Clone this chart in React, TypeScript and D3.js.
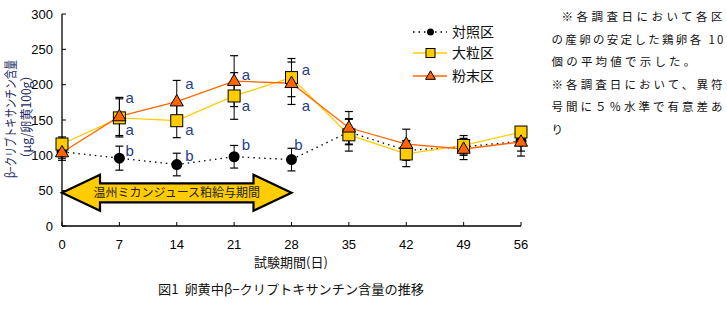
import React from "react";
import * as d3 from "d3";

const days = [0, 7, 14, 21, 28, 35, 42, 49, 56];
const controlMean = [105, 96, 87, 98, 94, 133, 107, 112, 120];
const controlErr = [12, 17, 16, 16, 16, 18, 14, 10, 14];
const largeMean = [116, 153, 149, 184, 210, 129, 102, 114, 133];
const largeErr = [10, 27, 24, 33, 27, 23, 18, 14, 7];
const powderMean = [104, 155, 176, 205, 202, 139, 116, 109, 119];
const powderErr = [8, 27, 30, 36, 30, 23, 21, 15, 20];

const seriesNames = ["対照区", "大粒区", "粉末区"];
const xTicks = [0, 7, 14, 21, 28, 35, 42, 49, 56];
const yTicks = [0, 50, 100, 150, 200, 250, 300];

// significance letters: day, letter, vertical anchor (data units), horizontal shift (days)
const sigDays = [7, 7, 7, 14, 14, 14, 21, 21, 21, 28, 28, 28];
const sigText = ["a", "a", "b", "a", "a", "b", "a", "a", "b", "a", "a", "b"];
const sigValue = [182, 137, 106, 201, 137, 99, 214, 170, 115, 221, 170, 115];
const sigShift = [1.25, 1.25, 1.25, 1.55, 1.55, 1.55, 1.45, 1.45, 1.45, 1.75, 1.75, 0.85];

const noteLines = [
  "※各調査日において各区",
  "の産卵の安定した鶏卵各 10",
  "個の平均値で示した。",
  "※各調査日において、異符",
  "号間に５％水準で有意差あ",
  "り",
];
const arrowLabel = "温州ミカンジュース粕給与期間";
const arrowRange = [0, 28];
const arrowValue = 47;
const xTitle = "試験期間(日)";
const yTitle1 = "β−クリプトキサンチン含量";
const yTitle2 = "（μg/卵黄100g）";
const figTitle = "図1\u00a0\u00a0卵黄中β−クリプトキサンチン含量の推移";

const JP = "'Noto Sans CJK JP', sans-serif";
const NUM = "'Liberation Sans', Arial, sans-serif";

export default function App() {
  const x = d3.scaleLinear().domain([0, 56]).range([62, 521]);
  const y = d3.scaleLinear().domain([0, 300]).range([226, 14]);
  const line = d3
    .line<number>()
    .x((_, i) => x(days[i]))
    .y((d) => y(d));

  const series = [
    { mean: controlMean, err: controlErr, color: "#000", dash: "1.5,4", kind: "circle" },
    { mean: largeMean, err: largeErr, color: "#FFCC00", dash: "", kind: "square" },
    { mean: powderMean, err: powderErr, color: "#FF6600", dash: "", kind: "triangle" },
  ];

  const marker = (kind: string, cx: number, cy: number, key: string) => {
    if (kind === "circle")
      return <circle key={key} cx={cx} cy={cy} r={5.5} fill="#000" />;
    if (kind === "square")
      return (
        <rect key={key} x={cx - 6} y={cy - 6} width={12} height={12} fill="#FFCC00" stroke="#000" strokeWidth={1} />
      );
    const tri = d3.symbol().type(d3.symbolTriangle).size(75)();
    return (
      <path key={key} d={tri || ""} transform={`translate(${cx},${cy + 0.5})`} fill="#FF6600" stroke="#000" strokeWidth={1} />
    );
  };

  const ax0 = x(arrowRange[0]);
  const ax1 = x(arrowRange[1]);
  const acy = y(arrowValue);
  const head = 38;
  const hh = 18;
  const sh = 9.5;
  const arrowPath = [
    [ax0, acy],
    [ax0 + head, acy - hh],
    [ax0 + head, acy - sh],
    [ax1 - head, acy - sh],
    [ax1 - head, acy - hh],
    [ax1, acy],
    [ax1 - head, acy + hh],
    [ax1 - head, acy + sh],
    [ax0 + head, acy + sh],
    [ax0 + head, acy + hh],
  ];
  const arrowD = d3.line()(arrowPath as [number, number][]) + "Z";

  const noteX = [561.5, 551.5, 551.5, 551.5, 551.5, 551.5];
  const noteY = [17, 40, 62, 85, 107, 130];
  const noteLen = [161, 172, 0, 171, 171, 0];

  return (
    <svg width={727} height={334} style={{ display: "block", position: "absolute", left: 0, top: 0 }}>
      <rect width={727} height={334} fill="#fff" />
      <line x1={x(0)} y1={y(0)} x2={x(0)} y2={y(300)} stroke="#000" strokeWidth={1.3} />
      <line x1={x(0)} y1={y(0)} x2={x(56)} y2={y(0)} stroke="#000" strokeWidth={1.3} />
      {yTicks.map((t) => (
        <g key={"y" + t}>
          <line x1={x(0)} x2={x(0) + 4} y1={y(t)} y2={y(t)} stroke="#000" />
          <text x={53} y={y(t)} dy="0.36em" textAnchor="end" fontFamily={NUM} fontSize={13} fill="#000">
            {t}
          </text>
        </g>
      ))}
      {xTicks.map((t) => (
        <g key={"x" + t}>
          <line x1={x(t)} x2={x(t)} y1={y(0)} y2={y(0) - 4} stroke="#000" />
          <text x={x(t)} y={249} textAnchor="middle" fontFamily={NUM} fontSize={13} fill="#000">
            {t}
          </text>
        </g>
      ))}
      <path d={arrowD} fill="#FFCC00" stroke="#000" strokeWidth={2.2} strokeLinejoin="miter" />
      <text x={(ax0 + ax1) / 2} y={acy} dy="0.36em" textAnchor="middle" fontFamily={JP} fontSize={12} fill="#222">
        {arrowLabel}
      </text>
      {series.map((s, si) =>
        s.mean.map((m, i) => (
          <g key={`e${si}-${i}`}>
            <line x1={x(days[i])} x2={x(days[i])} y1={y(m - s.err[i])} y2={y(m + s.err[i])} stroke="#000" strokeWidth={1} />
            <line x1={x(days[i]) - 4} x2={x(days[i]) + 4} y1={y(m - s.err[i])} y2={y(m - s.err[i])} stroke="#000" strokeWidth={1.2} />
            <line x1={x(days[i]) - 4} x2={x(days[i]) + 4} y1={y(m + s.err[i])} y2={y(m + s.err[i])} stroke="#000" strokeWidth={1.2} />
          </g>
        ))
      )}
      {series.map((s, si) => (
        <path key={"l" + si} d={line(s.mean) || ""} fill="none" stroke={s.color} strokeWidth={1.3} strokeDasharray={s.dash || undefined} />
      ))}
      {series.map((s, si) => s.mean.map((m, i) => marker(s.kind, x(days[i]), y(m), `m${si}-${i}`)))}
      {sigDays.map((d, i) => (
        <text key={"s" + i} x={x(d + sigShift[i])} y={y(sigValue[i])} dy="0.36em" textAnchor="middle" fontFamily={NUM} fontSize={15} fill="#22408A">
          {sigText[i]}
        </text>
      ))}
      {series.map((s, si) => {
        const ly = [32, 53, 76][si];
        return (
          <g key={"lg" + si}>
            <line x1={413} x2={447} y1={ly} y2={ly} stroke={s.color} strokeWidth={1.3} strokeDasharray={s.dash || undefined} />
            {si === 0 ? (
              <circle cx={430.5} cy={ly} r={3.5} fill="#000" />
            ) : si === 1 ? (
              <rect x={426} y={ly - 4.5} width={9} height={9} fill="#FFCC00" stroke="#000" />
            ) : (
              <path d={d3.symbol().type(d3.symbolTriangle).size(42)() || ""} transform={`translate(${430.5},${ly + 0.5})`} fill="#FF6600" stroke="#000" />
            )}
            <text x={452} y={ly} dy="0.36em" fontFamily={JP} fontSize={14} fill="#111">
              {seriesNames[si]}
            </text>
          </g>
        );
      })}
      <text transform={`translate(15,119) rotate(-90)`} textAnchor="middle" fontFamily={JP} fontSize={13} fill="#1F2F66" textLength={118} lengthAdjust="spacingAndGlyphs">
        {yTitle1}
      </text>
      <text transform={`translate(31,117) rotate(-90)`} textAnchor="middle" fontFamily={JP} fontSize={13} fill="#1F2F66" textLength={95} lengthAdjust="spacingAndGlyphs">
        {yTitle2}
      </text>
      <text x={291} y={267} textAnchor="middle" fontFamily={JP} fontSize={13} fill="#111">
        {xTitle}
      </text>
      <text x={291} y={294} textAnchor="middle" fontFamily={JP} fontSize={13} fill="#111" textLength={266} lengthAdjust="spacingAndGlyphs">
        {figTitle}
      </text>
      {noteLines.map((t, i) => (
        <text
          key={"n" + i}
          x={noteX[i]}
          y={noteY[i]}
          dy="0.36em"
          fontFamily={JP}
          fontSize={11.5}
          fill="#111"
          letterSpacing={noteLen[i] ? undefined : 3.2}
          textLength={noteLen[i] || undefined}
          lengthAdjust="spacing"
        >
          {t}
        </text>
      ))}
    </svg>
  );
}
